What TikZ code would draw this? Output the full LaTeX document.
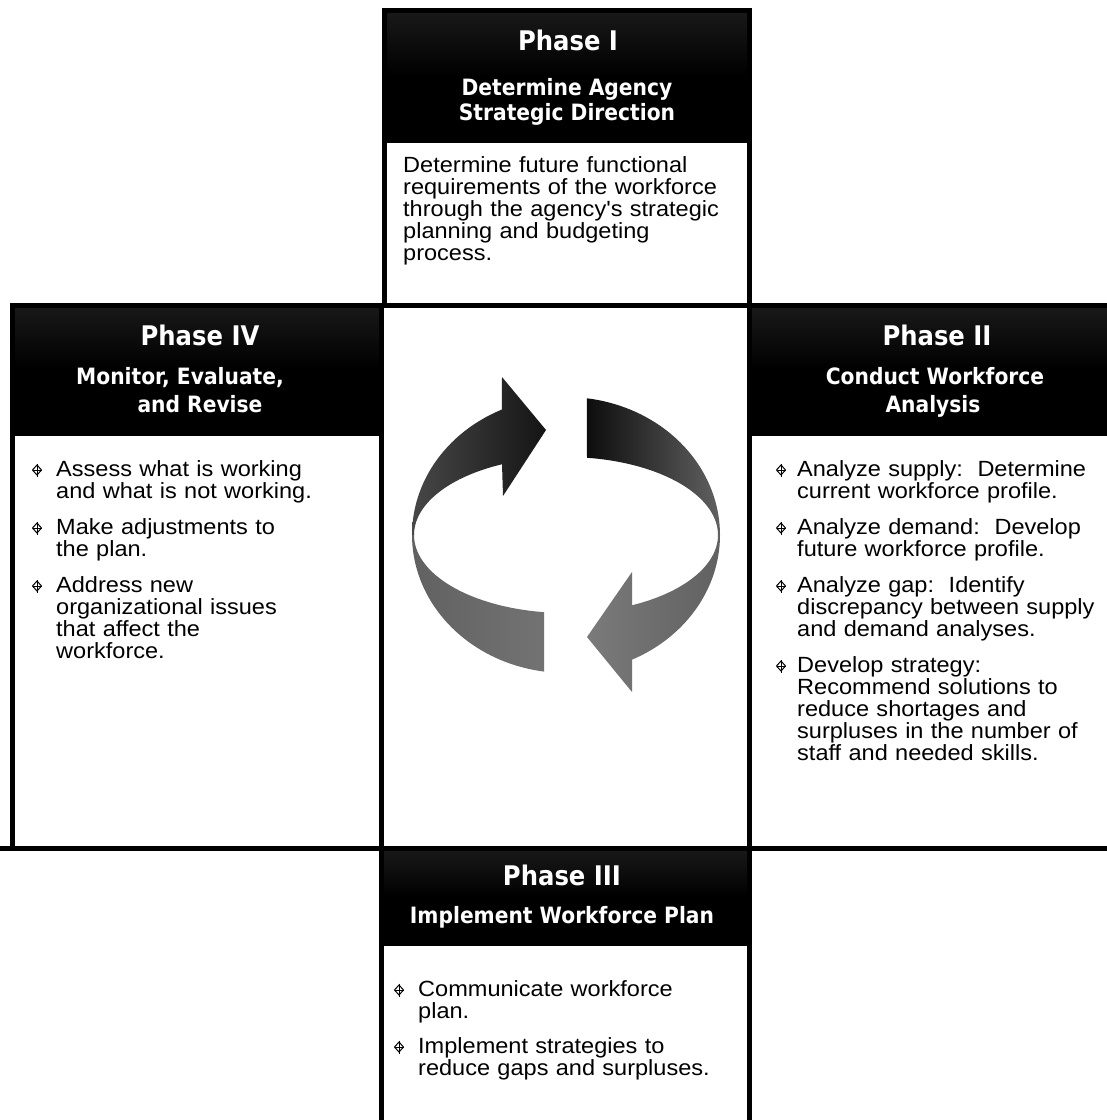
\documentclass[tikz,border=0pt]{standalone}
\usepackage{fontspec}
\newfontfamily\bodyfont{Liberation Sans}[FakeStretch=1.07]
\newfontfamily\headfont{DejaVu Sans}[FakeStretch=0.9]
\begin{document}
\begin{tikzpicture}[x=1pt,y=-1pt,
  bd/.style={line width=5pt, draw=black},
  hdr/.style={top color=black!90, bottom color=black, middle color=black},
  ttl/.style={text=white, font=\headfont\bfseries\fontsize{27}{30}\selectfont, inner sep=0pt, anchor=base},
  sub/.style={text=white, font=\headfont\bfseries\fontsize{22.5}{26}\selectfont, inner sep=0pt, anchor=base},
  body/.style={font=\bodyfont\fontsize{22}{22}\selectfont, inner sep=0pt, anchor=base west, align=left, text width=330pt},
  bulletmark/.pic={
    \draw[line width=1pt] (0,-5) -- (4.5,0) -- (0,5) -- (-4.5,0) -- cycle;
    \draw[line width=1pt] (-4.5,0) -- (4.5,0) (0,-6.5) -- (0,6.5);
  }
]
\useasboundingbox (0,0) rectangle (1107,1120);
\clip (0,0) rectangle (1107,1120);
\fill[white] (0,0) rectangle (1107,1120);

% header fills
\shade[hdr] (382,10) rectangle (751,142);
\shade[hdr] (10,303) rectangle (383,435);
\shade[hdr] (751,305) rectangle (1115,435);
\shade[hdr] (382,848) rectangle (751,945);

% box borders
\draw[bd] (384,10) rectangle (749,305);
\draw[bd] (12,305) rectangle (381,848);
\draw[bd] (749,305) rectangle (1115,848);
\draw[bd] (381,848) rectangle (749,1130);
\draw[bd] (0,848) -- (1107,848);

% circular arrows
\shade[left color=black!72, right color=black!92]
  plot[domain=180:114.6, samples=40, variable=\t] ({566+154*cos(\t)},{535-138*sin(\t)})
  -- (502,377) -- (546,430) -- (503,496) -- (502,464)
  -- plot[domain=114.9:180, samples=40, variable=\t] ({566+152*cos(\t)},{535-78*sin(\t)}) -- cycle;
\shade[left color=black!95, right color=black!62]
  plot[domain=82.2:0, samples=40, variable=\t] ({566+154*cos(\t)},{535-138*sin(\t)})
  -- plot[domain=0:82.06, samples=40, variable=\t] ({566+152*cos(\t)},{535-78*sin(\t)}) -- cycle;
\shade[left color=black!62, right color=black!55]
  plot[domain=180:98.2, samples=40, variable=\t] ({566+154*cos(\t)},{535+138*sin(\t)})
  -- plot[domain=98.3:180, samples=40, variable=\t] ({566+152*cos(\t)},{535+78*sin(\t)}) -- cycle;
\shade[left color=black!52, right color=black!62]
  plot[domain=0:64.6, samples=40, variable=\t] ({566+154*cos(\t)},{535+138*sin(\t)})
  -- (632,692) -- (587,637) -- (632,572) -- (632,605)
  -- plot[domain=64.3:0, samples=40, variable=\t] ({566+152*cos(\t)},{535+78*sin(\t)}) -- cycle;

% Phase I
\node[ttl] (t1) at (568,50) {Phase I};
\node[sub] (s1a) at (567,95) {Determine Agency};
\node[sub] (s1b) at (567,120) {Strategic Direction};
\node[body] (b1) at (403,172) {Determine future functional\\requirements of the workforce\\through the agency's strategic\\planning and budgeting\\process.};

% Phase IV
\node[ttl] (t4) at (200,345) {Phase IV};
\node[sub] (s4a) at (180,384) {Monitor, Evaluate,};
\node[sub] (s4b) at (200,412) {and Revise};
\pic (p4a) at (37,470) {bulletmark};
\node[body] (b4a) at (56,476) {Assess what is working\\and what is not working.};
\pic (p4b) at (37,528) {bulletmark};
\node[body] (b4b) at (56,534) {Make adjustments to\\the plan.};
\pic (p4c) at (37,586) {bulletmark};
\node[body] (b4c) at (56,592) {Address new\\organizational issues\\that affect the\\workforce.};

% Phase II
\node[ttl] (t2) at (937,345) {Phase II};
\node[sub] (s2a) at (935,384) {Conduct Workforce};
\node[sub] (s2b) at (933,412) {Analysis};
\pic (p2a) at (781,470) {bulletmark};
\node[body] (b2a) at (797,476) {Analyze supply:\ \ Determine\\current workforce profile.};
\pic (p2b) at (781,528) {bulletmark};
\node[body] (b2b) at (797,534) {Analyze demand:\ \ Develop\\future workforce profile.};
\pic (p2c) at (781,586) {bulletmark};
\node[body] (b2c) at (797,592) {Analyze gap:\ \ Identify\\discrepancy between supply\\and demand analyses.};
\pic (p2d) at (781,666) {bulletmark};
\node[body] (b2d) at (797,672) {Develop strategy:\\Recommend solutions to\\reduce shortages and\\surpluses in the number of\\staff and needed skills.};

% Phase III
\node[ttl] (t3) at (562,885) {Phase III};
\node[sub] (s3a) at (562,923) {Implement Workforce Plan};
\pic (p3a) at (399,990) {bulletmark};
\node[body] (b3a) at (418,996) {Communicate workforce\\plan.};
\pic (p3b) at (399,1047) {bulletmark};
\node[body] (b3b) at (418,1053) {Implement strategies to\\reduce gaps and surpluses.};
\end{tikzpicture}
\end{document}
